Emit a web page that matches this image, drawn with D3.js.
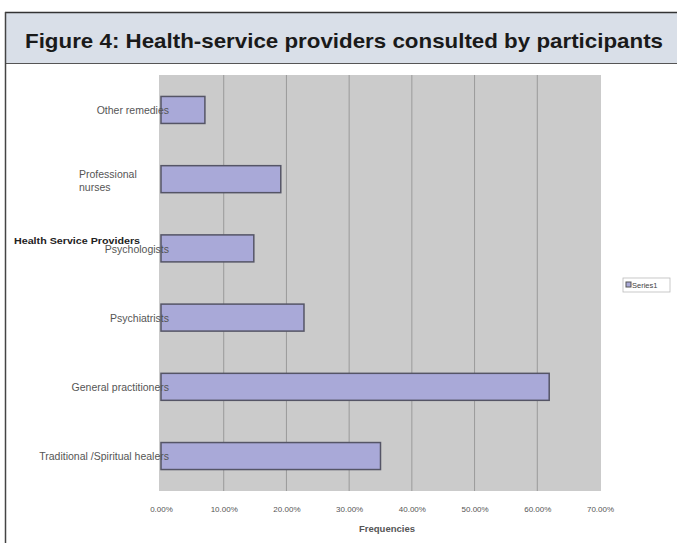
<!DOCTYPE html>
<html><head><meta charset="utf-8">
<script src="https://cdn.jsdelivr.net/npm/d3@7"></script>
<style>body{margin:0;background:#fff}svg{display:block}</style>
</head><body>
<script>
const categories = ["Other remedies","Professional nurses","Psychologists","Psychiatrists","General practitioners","Traditional /Spiritual healers"];
const values = [7.0, 19.1, 14.8, 22.8, 61.9, 35.0];
const ticks = [0,10,20,30,40,50,60,70];
const tickLabels = ["0.00%","10.00%","20.00%","30.00%","40.00%","50.00%","60.00%","70.00%"];
const title = "Figure 4: Health-service providers consulted by participants";
const seriesName = "Series1";

const W=677,H=543;
const svg=d3.select("body").append("svg").attr("width",W).attr("height",H);

// frame + title band
svg.append("rect").attr("x",5).attr("y",12).attr("width",W).attr("height",51).attr("fill","#d9dfe8");
svg.append("line").attr("x1",5).attr("x2",W).attr("y1",12.5).attr("y2",12.5).attr("stroke","#333").attr("stroke-width",1.5);
svg.append("line").attr("x1",5).attr("x2",W).attr("y1",63.5).attr("y2",63.5).attr("stroke","#555").attr("stroke-width",1);
svg.append("line").attr("x1",5.5).attr("x2",5.5).attr("y1",12).attr("y2",H).attr("stroke","#444").attr("stroke-width",1.5);
svg.append("text").attr("x",25).attr("y",48).attr("font-family","Liberation Sans, Arial, sans-serif")
  .attr("font-weight","bold").attr("font-size",21).attr("fill","#1a1a1a")
  .attr("textLength",638).attr("lengthAdjust","spacingAndGlyphs").text(title);

const x=d3.scaleLinear().domain([0,70]).range([161,600]);
const y=d3.scaleBand().domain(categories).range([75,491]).paddingInner(0.61).paddingOuter(0.31);

// plot area
svg.append("rect").attr("x",159).attr("y",75).attr("width",601-159).attr("height",491-75).attr("fill","#cbcbcb");
const g=svg.append("g");
g.selectAll("line.grid").data(ticks.slice(1,-1)).join("line").attr("class","grid")
  .attr("x1",d=>x(d)).attr("x2",d=>x(d)).attr("y1",75).attr("y2",491).attr("stroke","#9a9a9a").attr("stroke-width",1);

// bars
g.selectAll("rect.bar").data(values).join("rect").attr("class","bar")
  .attr("x",x(0)).attr("y",(d,i)=>y(categories[i]))
  .attr("width",d=>x(d)-x(0)).attr("height",y.bandwidth())
  .attr("fill","#a9a9d8").attr("stroke","#555566").attr("stroke-width",1.5);

// x axis labels
const xa=d3.axisBottom(x).tickValues(ticks).tickFormat((d,i)=>tickLabels[i]).tickSize(0);
const ax=svg.append("g").attr("transform","translate(0,491)").call(xa);
ax.select(".domain").remove();
ax.selectAll("text").attr("dy",0).attr("y",21).attr("font-family","Liberation Sans, Arial, sans-serif")
  .attr("font-size",8).attr("fill","#555");
svg.append("text").attr("x",387).attr("y",532).attr("text-anchor","middle")
  .attr("font-family","Liberation Sans, Arial, sans-serif").attr("font-size",9.5).attr("font-weight","bold").attr("fill","#555").text("Frequencies");

// category labels
const lab=svg.append("g").attr("font-family","Liberation Sans, Arial, sans-serif").attr("font-size",10.5).attr("fill","#555");
categories.forEach((c,i)=>{
  const cy=y(c)+y.bandwidth()/2;
  if(c==="Professional nurses"){
    lab.append("text").attr("x",79).attr("y",cy-1).text("Professional");
    lab.append("text").attr("x",79).attr("y",cy+12).text("nurses");
  } else {
    lab.append("text").attr("x",169).attr("y",cy+(c==="Psychologists"?5:4)).attr("text-anchor","end").text(c);
  }
});
svg.append("text").attr("x",14).attr("y",y("Psychologists")+y.bandwidth()/2-4)
  .attr("font-family","Liberation Sans, Arial, sans-serif").attr("font-size",9).attr("font-weight","bold").attr("fill","#222")
  .attr("textLength",126).attr("lengthAdjust","spacingAndGlyphs").text("Health Service Providers");

// legend
const lg=svg.append("g").attr("transform","translate(623,278)");
lg.append("rect").attr("width",47).attr("height",14).attr("fill","#fff").attr("stroke","#bbb").attr("stroke-width",0.8);
lg.append("rect").attr("x",3).attr("y",4).attr("width",5).attr("height",5).attr("fill","#a9a9d8").attr("stroke","#555");
lg.append("text").attr("x",9).attr("y",10).attr("font-family","Liberation Sans, Arial, sans-serif").attr("font-size",7.5).attr("fill","#444").text(seriesName);
</script>
</body></html>
